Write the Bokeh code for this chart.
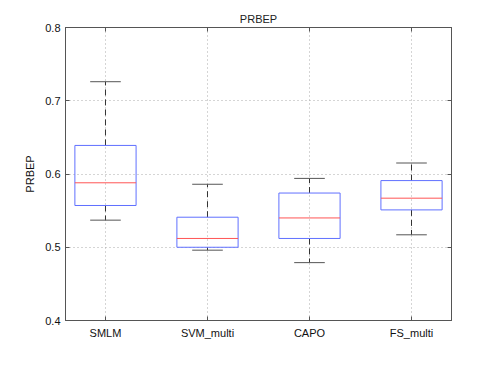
from bokeh.plotting import figure
from bokeh.models import Range1d, LinearAxis, FixedTicker, ColumnDataSource
from bokeh.embed import file_html
from bokeh.resources import INLINE

categories = ["SMLM", "SVM_multi", "CAPO", "FS_multi"]
upper_whisker = [0.726, 0.586, 0.594, 0.615]
q3 = [0.639, 0.541, 0.574, 0.591]
median = [0.588, 0.512, 0.540, 0.567]
q1 = [0.557, 0.500, 0.512, 0.551]
lower_whisker = [0.537, 0.496, 0.479, 0.517]
y_ticks = [0.4, 0.5, 0.6, 0.7, 0.8]

xs = list(range(1, len(categories) + 1))
box_half = 0.30
cap_half = 0.15

src = ColumnDataSource(dict(
    x=xs,
    left=[x - box_half for x in xs],
    right=[x + box_half for x in xs],
    cl=[x - cap_half for x in xs],
    cr=[x + cap_half for x in xs],
    uw=upper_whisker, q3=q3, med=median, q1=q1, lw=lower_whisker,
))

FONT = "Liberation Sans"

p = figure(width=482, height=359, output_backend="svg", toolbar_location=None,
           x_range=Range1d(0.608, 4.392), y_range=Range1d(0.4, 0.8),
           title="PRBEP", min_border_left=65, min_border_right=31,
           min_border_top=27, min_border_bottom=39)
p.title.align = "center"
p.title.text_font = FONT
p.title.text_font_size = "11px"
p.title.text_font_style = "normal"
p.title.text_color = "#222222"
p.title.standoff = 6

p.outline_line_color = "#555555"
p.outline_line_width = 1
p.background_fill_color = "white"
p.border_fill_color = "white"

# axes
p.xaxis.ticker = FixedTicker(ticks=xs)
p.xaxis.major_label_overrides = {x: c for x, c in zip(xs, categories)}
p.yaxis.ticker = FixedTicker(ticks=y_ticks)
p.yaxis.major_label_overrides = {t: f"{t:.1f}" for t in y_ticks}
for ax in (p.xaxis[0], p.yaxis[0]):
    ax.major_tick_in = 4
    ax.major_tick_out = 0
    ax.minor_tick_line_color = None
    ax.axis_line_color = "#555555"
    ax.major_tick_line_color = "#555555"
    ax.major_label_text_font = FONT
    ax.major_label_text_font_size = "11px"
    ax.major_label_text_color = "#111111"
p.yaxis.axis_label = "PRBEP"
p.yaxis.axis_label_text_font = FONT
p.yaxis.axis_label_text_font_size = "11px"
p.yaxis.axis_label_text_font_style = "normal"
p.yaxis.axis_label_text_color = "#111111"
p.yaxis.axis_label_standoff = 6
p.yaxis.major_label_standoff = 5
p.xaxis.major_label_standoff = 6

ra = LinearAxis(ticker=FixedTicker(ticks=y_ticks),
                major_label_overrides={t: "" for t in y_ticks},
                major_tick_in=4, major_tick_out=0, minor_tick_line_color=None,
                axis_line_color="#555555", major_tick_line_color="#555555")
ta = LinearAxis(ticker=FixedTicker(ticks=xs),
                major_label_overrides={x: "" for x in xs},
                major_tick_in=4, major_tick_out=0, minor_tick_line_color=None,
                axis_line_color="#555555", major_tick_line_color="#555555")
p.add_layout(ra, "right")
p.add_layout(ta, "above")

p.xgrid.grid_line_color = "#aaaaaa"
p.ygrid.grid_line_color = "#aaaaaa"
p.xgrid.grid_line_dash = "1 3"
p.ygrid.grid_line_dash = "1 3"
p.xgrid.grid_line_width = 1
p.ygrid.grid_line_width = 1

# whiskers
p.segment(x0="x", y0="q3", x1="x", y1="uw", source=src, line_color="#333333",
          line_dash="6 4", line_width=1)
p.segment(x0="x", y0="q1", x1="x", y1="lw", source=src, line_color="#333333",
          line_dash="6 4", line_width=1)
# caps
p.segment(x0="cl", y0="uw", x1="cr", y1="uw", source=src, line_color="#555555", line_width=1)
p.segment(x0="cl", y0="lw", x1="cr", y1="lw", source=src, line_color="#555555", line_width=1)
# boxes
p.quad(left="left", right="right", top="q3", bottom="q1", source=src,
       fill_color=None, line_color="#6070ff", line_width=1)
# medians
p.segment(x0="left", y0="med", x1="right", y1="med", source=src,
          line_color="#ff5555", line_width=1)

open("out.html", "w").write(file_html(p, INLINE))
